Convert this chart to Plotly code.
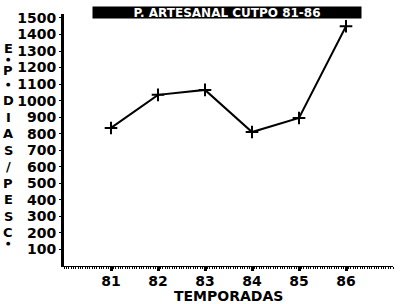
import plotly.graph_objects as go

# Data
seasons = [81, 82, 83, 84, 85, 86]
values = [835, 1035, 1065, 810, 895, 1450]
x_tick_labels = ["81", "82", "83", "84", "85", "86"]
y_tick_vals = list(range(100, 1600, 100))
y_tick_labels = [str(v) for v in y_tick_vals]
title_text = "P. ARTESANAL CUTPO 81-86"
x_title = "TEMPORADAS"
y_label_chars = ["E", "●", "P", "●", "D", "I", "A", "S", "/", "P", "E", "S", "C", "●"]
y_label_levels = [1315, 1250, 1185, 1100, 1000, 900, 800, 700, 600, 500, 400, 300, 200, 140]

FONT = "DejaVu Sans"

fig = go.Figure()
fig.add_trace(go.Scatter(
    x=seasons, y=values, mode="lines+markers",
    line=dict(color="black", width=2),
    marker=dict(symbol="cross-thin", size=9, line=dict(color="black", width=2), color="black"),
    showlegend=False, hoverinfo="skip",
))

fig.update_layout(
    width=400, height=304,
    margin=dict(l=64, r=7, t=14, b=38),
    paper_bgcolor="white", plot_bgcolor="white",
    font=dict(family=FONT, color="black"),
)

fig.update_xaxes(
    range=[80, 87], showgrid=False, zeroline=False,
    showline=True, linecolor="black", linewidth=1,
    tickvals=seasons, ticktext=x_tick_labels,
    ticks="outside", ticklen=4, tickwidth=3, tickcolor="black",
    ticklabelstandoff=-2,
    tickfont=dict(family=FONT, size=14, weight="bold"),
    minor=dict(dtick=0.05, ticks="outside", ticklen=2, tickwidth=1, tickcolor="black"),
)
fig.update_yaxes(
    range=[0, 1524], showgrid=False, zeroline=False,
    showline=True, linecolor="black", linewidth=3,
    tickvals=y_tick_vals, ticktext=y_tick_labels,
    ticks="outside", ticklen=2, tickwidth=1, tickcolor="black",
    ticklabelstandoff=0,
    tickfont=dict(family=FONT, size=14, weight="bold"),
)

# Title in black box
fig.add_annotation(
    x=0.4954, y=1.0079, xref="paper", yref="paper",
    xanchor="center", yanchor="middle",
    text=title_text, showarrow=False,
    bgcolor="black", width=268, height=11, borderpad=0,
    font=dict(family=FONT, size=12, color="white", weight="bold"),
)

# X axis title
fig.add_annotation(
    x=0.5, y=-0.119, xref="paper", yref="paper",
    xanchor="center", yanchor="middle",
    text=x_title, showarrow=False, borderpad=0,
    font=dict(family=FONT, size=14, weight="bold"),
)

# Vertical stacked y label
for ch, lvl in zip(y_label_chars, y_label_levels):
    is_dot = ch == "●"
    fig.add_annotation(
        x=-0.170, xref="paper", y=lvl, yref="y",
        xanchor="center", yanchor="middle",
        text=ch, showarrow=False, borderpad=0,
        font=dict(family=FONT, size=5 if is_dot else 13, weight="bold"),
    )

fig.write_html("out.html")
